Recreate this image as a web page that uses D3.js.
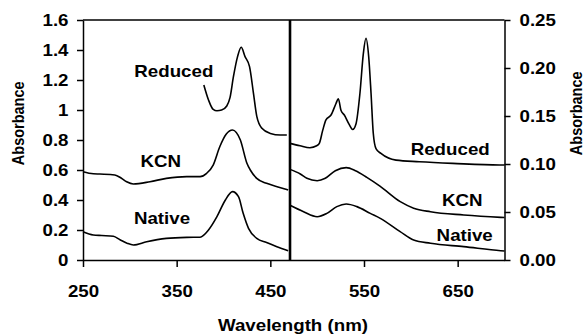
<!DOCTYPE html>
<html><head><meta charset="utf-8">
<script src="https://cdn.jsdelivr.net/npm/d3@7"></script>
<style>
html,body{margin:0;padding:0;background:#fff;}
svg{display:block;}
text{font-family:"Liberation Sans",Arial,sans-serif;font-weight:bold;fill:#000;}
</style></head>
<body>
<svg id="chart" width="586" height="335"></svg>
<script>
// ---- data ----
const xTicks = [250, 350, 450, 550, 650];
const leftTicks = [0, 0.2, 0.4, 0.6, 0.8, 1, 1.2, 1.4, 1.6];
const rightTicks = [0, 0.05, 0.10, 0.15, 0.20, 0.25];
const seriesNames = ["Reduced", "KCN", "Native"];
const splitWavelength = 471;

const reducedLeft = [[379,1.167],[384,1.067],[389,1.004],[393,0.995],[398,1.0],[403.5,1.027],[407,1.084],[410.6,1.222],[415,1.356],[418.9,1.418],[423,1.356],[427.8,1.289],[432,1.111],[435.6,0.956],[441,0.878],[450,0.844],[460.6,0.833],[467.6,0.833]];
const kcnLeft = [[250,0.589],[261,0.575],[268,0.573],[284,0.567],[291,0.545],[296.6,0.522],[303.7,0.507],[321.5,0.522],[339,0.544],[360.7,0.556],[375,0.556],[382,0.578],[389,0.633],[396,0.755],[403,0.84],[409.6,0.867],[418,0.8],[425,0.645],[428.6,0.6],[435.5,0.544],[446,0.511],[460,0.484],[469,0.467]];
const nativeLeft = [[250,0.189],[261,0.167],[270,0.163],[282.4,0.158],[289.5,0.135],[297,0.112],[303.7,0.1],[318,0.122],[339,0.144],[360.7,0.151],[375,0.152],[384,0.2],[393,0.289],[402,0.4],[409.6,0.456],[416,0.422],[421,0.311],[426.7,0.211],[435.5,0.144],[446,0.116],[457,0.089],[469,0.062]];

const reducedRight = [[471,0.1215],[481.7,0.119],[492.3,0.117],[499.5,0.119],[502.3,0.1215],[505.9,0.135],[509.4,0.146],[514.8,0.151],[520.1,0.163],[522.6,0.168],[525.4,0.156],[529,0.151],[534.3,0.141],[537.9,0.136],[541.5,0.142],[545.7,0.174],[549.3,0.215],[552.1,0.231],[555,0.212],[557.5,0.174],[559.9,0.132],[562.8,0.116],[568.1,0.111],[584.2,0.104],[609,0.1024],[644.7,0.1007],[694.5,0.099],[700,0.099]];
const kcnRight = [[471,0.0944],[482,0.0896],[489,0.0851],[500,0.0826],[508.7,0.0851],[519.4,0.093],[531,0.0962],[540.9,0.093],[553,0.0861],[567,0.077],[588.7,0.0608],[603,0.054],[621,0.0503],[656.5,0.0469],[696,0.0444],[700,0.0442]];
const nativeRight = [[471,0.057],[485.5,0.0503],[500,0.0451],[510.4,0.0486],[521,0.0556],[531,0.0583],[542.4,0.0556],[556.7,0.0486],[567.4,0.0434],[588.6,0.0295],[603,0.0208],[621,0.0174],[656.5,0.0139],[696,0.0097],[700,0.0094]];

// ---- layout ----
const svg = d3.select("#chart");
const L = 83, R = 504.5, T = 20, B = 260;
const SX = 1.17;
const x = d3.scaleLinear().domain([250, 700]).range([L, R]);
const yL = d3.scaleLinear().domain([0, 1.6]).range([B, T]);
const yR = d3.scaleLinear().domain([0, 0.25]).range([B, T]);

function styleAxis(g, fmt, dx, dy, anchor) {
  g.selectAll(".domain").attr("stroke", "#000").attr("stroke-width", 1.5);
  g.selectAll(".tick line").attr("stroke", "#000").attr("stroke-width", 1.5);
  g.selectAll(".tick text")
    .attr("x", null).attr("y", null).attr("dy", null)
    .attr("text-anchor", anchor)
    .attr("transform", `translate(${dx},${dy}) scale(${SX},1)`)
    .style("font-size", "16px")
    .style("font-family", '"Liberation Sans", Arial, sans-serif')
    .style("font-weight", "bold")
    .text(fmt);
}

// frame top line
svg.append("line").attr("x1", L).attr("x2", R).attr("y1", T).attr("y2", T)
  .attr("stroke", "#000").attr("stroke-width", 1.5);

const gx = svg.append("g").attr("transform", `translate(0,${B})`)
  .call(d3.axisBottom(x).tickValues(xTicks).tickSize(7).tickSizeOuter(0));
styleAxis(gx, d => d, 0, 36.7, "middle");

const gl = svg.append("g").attr("transform", `translate(${L},0)`)
  .call(d3.axisLeft(yL).tickValues(leftTicks).tickSize(6).tickSizeOuter(0));
styleAxis(gl, d => String(+d.toFixed(1)), -14.5, 5.8, "end");

const gr = svg.append("g").attr("transform", `translate(${R},0)`)
  .call(d3.axisRight(yR).tickValues(rightTicks).tickSize(6).tickSizeOuter(0));
styleAxis(gr, d3.format(".2f"), 15, 5.8, "start");

// divider
svg.append("line").attr("x1", x(splitWavelength)).attr("x2", x(splitWavelength))
  .attr("y1", T).attr("y2", B).attr("stroke", "#000").attr("stroke-width", 2.6);

// curves
const lineL = d3.line().x(d => x(d[0])).y(d => yL(d[1])).curve(d3.curveMonotoneX);
const lineR = d3.line().x(d => x(d[0])).y(d => yR(d[1])).curve(d3.curveMonotoneX);
[reducedLeft, kcnLeft, nativeLeft].forEach(s => {
  svg.append("path").attr("d", lineL(s)).attr("fill", "none")
    .attr("stroke", "#000").attr("stroke-width", 1.6).attr("stroke-linejoin", "round");
});
[reducedRight, kcnRight, nativeRight].forEach(s => {
  svg.append("path").attr("d", lineR(s)).attr("fill", "none")
    .attr("stroke", "#000").attr("stroke-width", 1.6).attr("stroke-linejoin", "round");
});

// series labels
function label(txt, cx, by) {
  svg.append("text").attr("text-anchor", "middle")
    .attr("transform", `translate(${cx},${by}) scale(${SX},1)`)
    .style("font-size", "16px").text(txt);
}
label(seriesNames[0], 173.8, 76.7);
label(seriesNames[1], 160.8, 167);
label(seriesNames[2], 162, 224.3);
label(seriesNames[0], 450.2, 155);
label(seriesNames[1], 462.3, 205.7);
label(seriesNames[2], 464.7, 241);

// axis titles
svg.append("text").attr("text-anchor", "middle")
  .attr("transform", `translate(293,330.7) scale(${SX},1)`)
  .style("font-size", "16px").text("Wavelength (nm)");
svg.append("text").attr("text-anchor", "middle")
  .attr("transform", `translate(24,123.3) scale(${SX},1) rotate(-90)`)
  .style("font-size", "14.5px").text("Absorbance");
svg.append("text").attr("text-anchor", "middle")
  .attr("transform", `translate(582,113.3) scale(${SX},1) rotate(-90)`)
  .style("font-size", "14.5px").text("Absorbance");
</script>
</body></html>
